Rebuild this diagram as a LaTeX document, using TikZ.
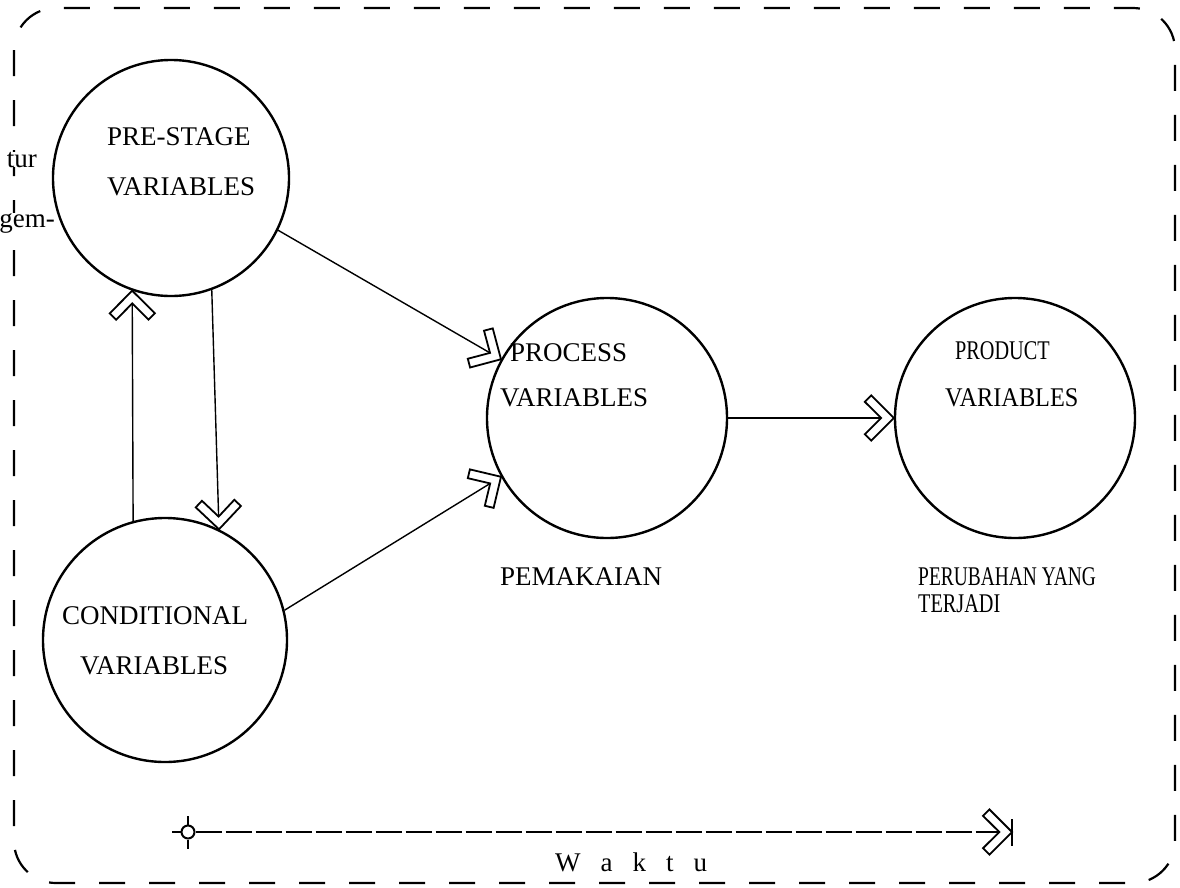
\documentclass[tikz,border=0pt]{standalone}
\usepackage{graphicx}
\usepackage{fontspec}
\setmainfont{Liberation Serif}
\tikzset{
  chev/.pic={\draw[solid, line width=1.8pt, fill=white, line join=miter, shorten >=0pt]
     (0,0) -- (-22.6,22.6) -- (-29,16.2) -- (-12.7,0) -- (-29,-16.2) -- (-22.6,-22.6) -- cycle;},
  circ/.style={draw, circle, line width=2.4pt, minimum size=240pt, inner sep=0pt},
  lbl/.style={anchor=base west, inner sep=0pt, font=\fontsize{27}{30}\selectfont},
  conn/.style={line width=1.4pt, shorten >=12pt},
  tipat/.style={pos=1, sloped, allow upside down},
  border/.style={line width=2.2pt, dash pattern=on 26pt off 24pt, rounded corners=42pt},
  timeline/.style={line width=1.1pt, dash pattern=on 26pt off 4pt},
  tick/.style={line width=1.8pt}
}
\begin{document}
\begin{tikzpicture}[x=1pt,y=-1pt]
\useasboundingbox (0,0) rectangle (1180,887);
% frame
\draw[border] (14,8) rectangle (1175,883);
% circles
\node[circ, minimum size=236pt] (pre) at (171,178) {};
\node[circ] (proc) at (607,418) {};
\node[circ] (prod) at (1015,418) {};
\node[circ, minimum size=244pt] (cond) at (165,640) {};
% connectors
\draw[conn] (pre.-26) -- (proc.151.5) pic[tipat] {chev};
\draw[conn] (cond.14) -- (proc.209.6) pic[tipat] {chev};
\draw[conn] (proc.east) -- (prod.west) pic[tipat] {chev};
\draw[conn] (cond.105.2) -- (pre.251.2) pic[tipat] {chev};
\draw[conn] (pre.290.9) -- (cond.64.8) pic[tipat] {chev};
% labels
\node[lbl] (l1) at (107,145) {PRE-STAGE};
\node[lbl] (l2) at (107,195) {VARIABLES};
\node[lbl] (l3) at (510,361) {PROCESS};
\node[lbl] (l4) at (500,406) {VARIABLES};
\node[lbl] (l5) at (955,359) {\scalebox{0.75}[1]{PRODUCT}};
\node[lbl] (l6) at (945,406) {\scalebox{0.9}[1]{VARIABLES}};
\node[lbl] (l7) at (62,624) {CONDITIONAL};
\node[lbl] (l8) at (80,674) {VARIABLES};
\node[lbl] (l9) at (500,585) {PEMAKAIAN};
\node[lbl] (l10) at (918,585) {\scalebox{0.72}[1]{PERUBAHAN YANG}};
\node[lbl] (l11) at (918,612) {\scalebox{0.75}[1]{TERJADI}};
\node[lbl, anchor=base east, fill=white] (l12) at (37,167) {tur};
\node[lbl, anchor=base east, fill=white] (l13) at (55,227) {gem-};
% time axis
\node[draw, circle, line width=2pt, minimum size=13pt, inner sep=0pt] (t0) at (188,832) {};
\draw[tick] (t0.north) -- ++(0,-9);
\draw[tick] (t0.south) -- ++(0,9);
\draw[tick] (t0.west) -- ++(-9,0);
\coordinate (t1) at (1012,832);
\draw[timeline, conn] (t0.east) -- (t1) pic[tipat] {chev};
\draw[tick] (t1) ++(0,-13) -- ++(0,27);
\node[lbl] (w) at (555,871) {W\hspace{20pt}a\hspace{20pt}k\hspace{20pt}t\hspace{20pt}u};
\end{tikzpicture}
\end{document}
